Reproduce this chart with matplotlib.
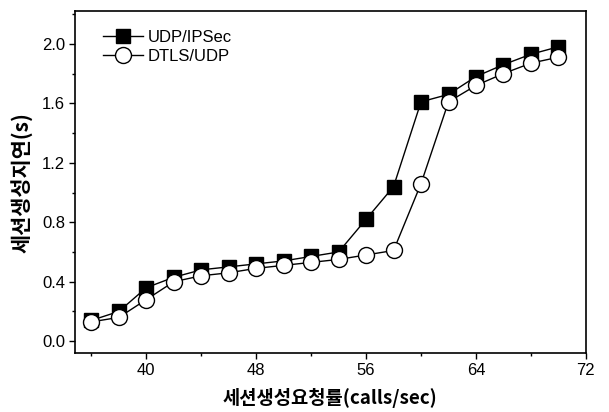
import matplotlib
matplotlib.use("Agg")
import matplotlib.pyplot as plt
from matplotlib.ticker import MultipleLocator

# request rate (calls/sec)
rate = [36, 38, 40, 42, 44, 46, 48, 50, 52, 54, 56, 58, 60, 62, 64, 66, 68, 70]

# session setup delay (s)
udp_ipsec = [0.14, 0.20, 0.36, 0.43, 0.48, 0.50, 0.52, 0.54, 0.57, 0.60,
             0.82, 1.04, 1.61, 1.66, 1.78, 1.86, 1.93, 1.98]
dtls_udp = [0.13, 0.16, 0.28, 0.40, 0.44, 0.46, 0.49, 0.51, 0.53, 0.55,
            0.58, 0.61, 1.06, 1.61, 1.72, 1.80, 1.87, 1.91]

xticks = [40, 48, 56, 64, 72]
yticks = [0.0, 0.4, 0.8, 1.2, 1.6, 2.0]

plt.rcParams['font.family'] = ['Liberation Sans', 'Noto Sans CJK KR', 'DejaVu Sans']
plt.rcParams['font.size'] = 12

fig = plt.figure(figsize=(6.09, 4.12), dpi=100)
ax = fig.add_axes([0.123, 0.143, 0.839, 0.83])

ax.plot(rate, udp_ipsec, color='black', lw=1.0, marker='s', ms=10.5,
        mfc='black', mec='black', label='UDP/IPSec', zorder=3)
ax.plot(rate, dtls_udp, color='black', lw=1.0, marker='o', ms=11.5,
        mfc='white', mec='black', mew=1.0, label='DTLS/UDP', zorder=4)

ax.set_xlim(34.8, 72)
ax.set_ylim(-0.08, 2.22)
ax.set_xticks(xticks)
ax.set_yticks(yticks)
ax.set_yticklabels(['%.1f' % v for v in yticks])
ax.xaxis.set_minor_locator(MultipleLocator(4))
ax.yaxis.set_minor_locator(MultipleLocator(0.2))
ax.tick_params(which='major', direction='out', length=4, width=1, pad=3)
ax.tick_params(which='minor', direction='out', length=2.5, width=1)

for s in ax.spines.values():
    s.set_linewidth(1.2)

ax.set_xlabel('세션생성요청률(calls/sec)', fontsize=13.5, fontweight='bold',
              family=['Noto Sans CJK KR', 'DejaVu Sans'], labelpad=7)
ax.set_ylabel('세션생성지연(s)', fontsize=15, fontweight='bold',
              family=['Noto Sans CJK KR', 'DejaVu Sans'], labelpad=6)

ax.legend(loc='upper left', bbox_to_anchor=(0.035, 0.975), frameon=False,
          handlelength=2.4, handletextpad=0.3, labelspacing=0.25,
          borderaxespad=0.2, fontsize=12)

fig.savefig('out.png', dpi=100)
